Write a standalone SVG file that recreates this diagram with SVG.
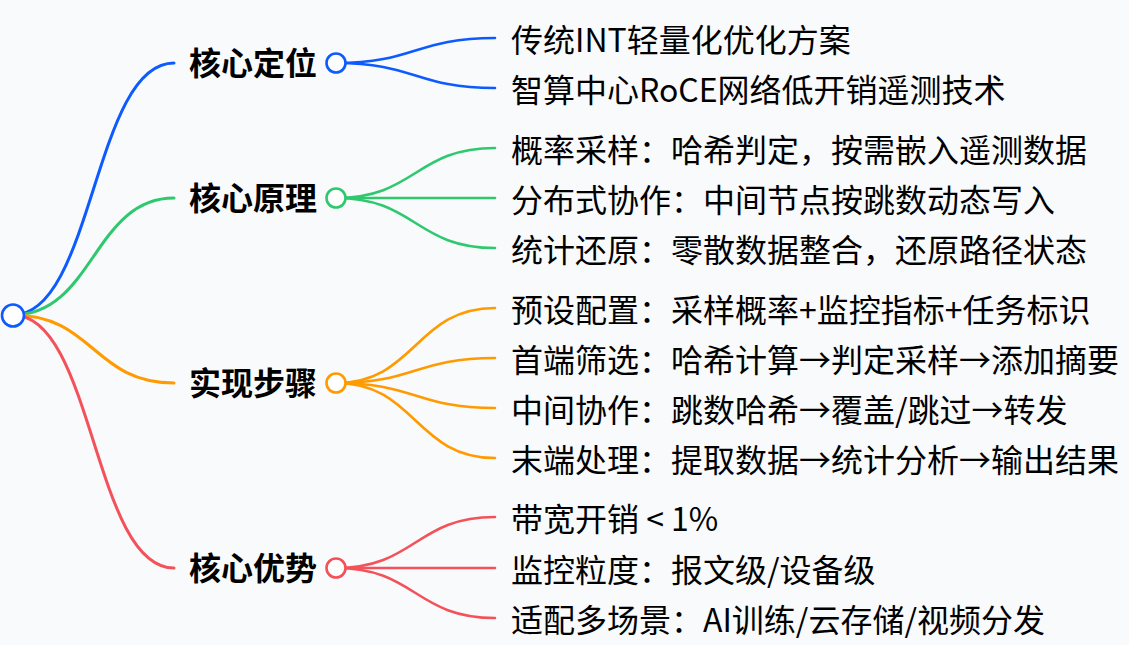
<svg xmlns="http://www.w3.org/2000/svg" width="1129" height="645" viewBox="0 0 1129 645">
<style>
.bg{fill:#f8fafc}
.lk{fill:none;stroke-linecap:round}
.main{stroke-width:3}
.sub{stroke-width:2.6}
.blue{stroke:#0d5bff}
.green{stroke:#2ec86e}
.orange{stroke:#ff9a00}
.red{stroke:#f4525a}
.dot{fill:#ffffff;stroke-width:2.6}
.br{font-family:"Noto Sans CJK SC","Noto Sans",sans-serif;font-size:32px;font-weight:bold;fill:#000}
.lf{font-family:"Noto Sans CJK SC","Noto Sans",sans-serif;font-size:32px;fill:#000}
</style>
<rect class="bg" x="0" y="0" width="1129" height="645"/>
<g id="connectors">
<path class="lk main blue" d="M13,315 C93.5,315 93.5,63 174,63"/>
<path class="lk main green" d="M13,315 C93.5,315 93.5,198 174,198"/>
<path class="lk main orange" d="M13,315 C93.5,315 93.5,383 174,383"/>
<path class="lk main red" d="M13,315 C93.5,315 93.5,568 174,568"/>
<path class="lk sub blue" d="M336,63 C415.5,63 415.5,38 495,38"/>
<path class="lk sub blue" d="M336,63 C415.5,63 415.5,88 495,88"/>
<path class="lk sub green" d="M336,198 C415.5,198 415.5,148 495,148"/>
<path class="lk sub green" d="M336,198 C415.5,198 415.5,198 495,198"/>
<path class="lk sub green" d="M336,198 C415.5,198 415.5,248 495,248"/>
<path class="lk sub orange" d="M336,383 C415.5,383 415.5,308 495,308"/>
<path class="lk sub orange" d="M336,383 C415.5,383 415.5,358 495,358"/>
<path class="lk sub orange" d="M336,383 C415.5,383 415.5,408 495,408"/>
<path class="lk sub orange" d="M336,383 C415.5,383 415.5,458 495,458"/>
<path class="lk sub red" d="M336,568 C415.5,568 415.5,517 495,517"/>
<path class="lk sub red" d="M336,568 C415.5,568 415.5,568 495,568"/>
<path class="lk sub red" d="M336,568 C415.5,568 415.5,618 495,618"/>
</g>
<g id="root"><circle class="dot blue" cx="13" cy="315.5" r="11" stroke-width="3"/></g>
<g id="b1"><text class="br" x="189" y="75">核心定位</text><circle class="dot blue" cx="336" cy="63" r="9.5"/></g>
<g id="b2"><text class="br" x="189" y="210">核心原理</text><circle class="dot green" cx="336" cy="198" r="9.5"/></g>
<g id="b3"><text class="br" x="189" y="395">实现步骤</text><circle class="dot orange" cx="336" cy="383" r="9.5"/></g>
<g id="b4"><text class="br" x="189" y="580">核心优势</text><circle class="dot red" cx="336" cy="568" r="9.5"/></g>
<g id="l1a"><text class="lf" x="511" y="52">传统INT轻量化优化方案</text></g>
<g id="l1b"><text class="lf" x="511" y="102">智算中心RoCE网络低开销遥测技术</text></g>
<g id="l2a"><text class="lf" x="511" y="162">概率采样：哈希判定，按需嵌入遥测数据</text></g>
<g id="l2b"><text class="lf" x="511" y="212">分布式协作：中间节点按跳数动态写入</text></g>
<g id="l2c"><text class="lf" x="511" y="262">统计还原：零散数据整合，还原路径状态</text></g>
<g id="l3a"><text class="lf" x="511" y="322">预设配置：采样概率+监控指标+任务标识</text></g>
<g id="l3b"><text class="lf" x="511" y="372">首端筛选：哈希计算→判定采样→添加摘要</text></g>
<g id="l3c"><text class="lf" x="511" y="422">中间协作：跳数哈希→覆盖/跳过→转发</text></g>
<g id="l3d"><text class="lf" x="511" y="472">末端处理：提取数据→统计分析→输出结果</text></g>
<g id="l4a"><text class="lf" x="511" y="531">带宽开销 &lt; 1%</text></g>
<g id="l4b"><text class="lf" x="511" y="582">监控粒度：报文级/设备级</text></g>
<g id="l4c"><text class="lf" x="511" y="632">适配多场景：AI训练/云存储/视频分发</text></g>
</svg>
